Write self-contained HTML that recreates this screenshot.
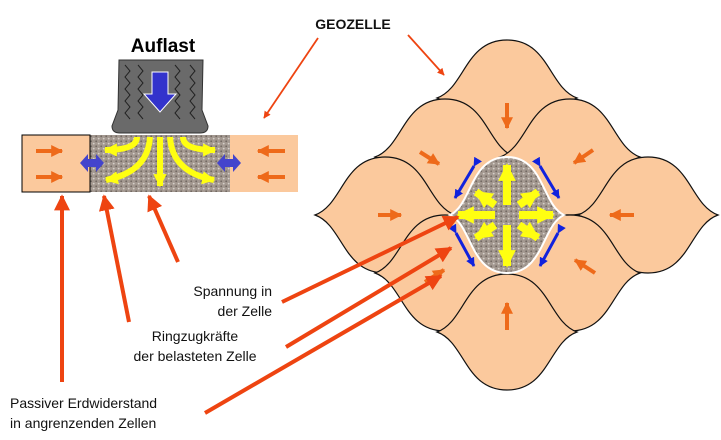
<!DOCTYPE html><html><head><meta charset="utf-8"><style>body{margin:0;background:#fff}svg{display:block}text{font-family:"Liberation Sans",sans-serif}</style></head><body>
<svg width="721" height="440" viewBox="0 0 721 440">
<defs>
<pattern id="g" width="5" height="5" patternUnits="userSpaceOnUse"><rect width="5" height="5" fill="#a39890"/><circle cx="1.2" cy="1.3" r="0.9" fill="#6f6660"/><circle cx="3.7" cy="3.6" r="0.9" fill="#d6d0ca"/></pattern>
<marker id="ar" viewBox="0 0 10 10" refX="9" refY="5" markerWidth="4" markerHeight="4" orient="auto"><path d="M0,0L10,5L0,10z" fill="#ee4411"/></marker>
<marker id="as" viewBox="0 0 10 10" refX="9" refY="5" markerWidth="4" markerHeight="4" orient="auto"><path d="M0,0L10,5L0,10z" fill="#ee4411"/></marker>
<marker id="ao" viewBox="0 0 10 10" refX="9" refY="5" markerWidth="3" markerHeight="3" orient="auto"><path d="M0,0L10,5L0,10z" fill="#ee6a1a"/></marker>
<marker id="ay" viewBox="0 0 10 10" refX="9" refY="5" markerWidth="2.2" markerHeight="2.2" orient="auto"><path d="M0,0L10,5L0,10z" fill="#ffff11"/></marker>
<marker id="ab" viewBox="0 0 10 10" refX="9" refY="5" markerWidth="3" markerHeight="3" orient="auto"><path d="M0,0L10,5L0,10z" fill="#1122dd"/></marker>
</defs>
<text x="163" y="52" font-size="19" font-weight="bold" text-anchor="middle">Auflast</text>
<path d="M119,60 L203,60 L202,110 L208,126 Q208,133 200,133 L120,133 Q112,133 112,126 L118,110 Z" fill="#6a6a6a" stroke="#333"/>
<g stroke="#222" fill="none" stroke-width="1">
<path d="M125,65 l5,6 -5,6 5,6 -5,6 5,6 -5,6 5,6 -5,6 5,6"/><path d="M138,65 l5,6 -5,6 5,6 -5,6 5,6 -5,6 5,6 -5,6 5,6"/><path d="M175,65 l5,6 -5,6 5,6 -5,6 5,6 -5,6 5,6 -5,6 5,6"/><path d="M190,65 l5,6 -5,6 5,6 -5,6 5,6 -5,6 5,6 -5,6 5,6"/></g>
<path d="M152,72 h16 v22 h8 l-16,18 -16,-18 h8z" fill="#3333cc" stroke="#fff" stroke-width="1"/>
<rect x="90" y="135" width="140" height="57" fill="url(#g)"/>
<rect x="22" y="135" width="68" height="57" fill="#fbc99d" stroke="#000"/>
<rect x="230" y="135" width="68" height="57" fill="#fbc99d"/>
<g stroke="#ee6a1a" stroke-width="4" marker-end="url(#ao)"><line x1="36" y1="151" x2="62" y2="151"/><line x1="36" y1="177" x2="62" y2="177"/><line x1="285" y1="151" x2="258" y2="151"/><line x1="285" y1="177" x2="258" y2="177"/></g>
<g fill="#4444cc"><path d="M80,163 l8,-9 v5 h8 v-5 l8,9 -8,9 v-5 h-8 v5z"/><path d="M217,163 l8,-9 v5 h8 v-5 l8,9 -8,9 v-5 h-8 v5z"/></g>
<g stroke="#ffff11" stroke-width="6" fill="none" marker-end="url(#ay)">
<line x1="160" y1="137" x2="160" y2="186"/>
<path d="M137,137 Q137,150 105,150"/><path d="M183,137 Q183,150 215,150"/>
<path d="M150,137 Q148,172 106,180"/><path d="M170,137 Q172,172 214,180"/></g>
<g fill="#fbc99d" stroke="#111" stroke-width="1.2">
<path id="c" d="M-70,0 C-42,-10 -42,-58 0,-58 C42,-58 42,-10 70,0 C42,10 42,58 0,58 C-42,58 -42,10 -70,0Z" transform="translate(507,98)"/>
<use href="#c" transform="translate(-62,59)"/><use href="#c" transform="translate(63,59)"/>
<use href="#c" transform="translate(-122,117)"/><use href="#c" transform="translate(141,117)"/>
<use href="#c" transform="translate(-62,175)"/><use href="#c" transform="translate(63,175)"/>
<use href="#c" transform="translate(0,234)"/>
</g>
<path d="M450,215 C472,205 470,157 507,157 C544,157 542,205 564,215 C542,225 544,273 507,273 C470,273 472,225 450,215Z" fill="url(#g)" stroke="#fff" stroke-width="2"/>
<g stroke="#ee6a1a" stroke-width="4" marker-end="url(#ao)">
<line x1="507" y1="103" x2="507" y2="128"/><line x1="507" y1="330" x2="507" y2="303"/>
<line x1="420" y1="152" x2="439" y2="164"/><line x1="593" y1="150" x2="574" y2="163"/>
<line x1="378" y1="215" x2="401" y2="215"/><line x1="634" y1="215" x2="610" y2="215"/>
<line x1="595" y1="273" x2="575" y2="260"/><line x1="425" y1="282" x2="444" y2="270"/></g>
<g stroke="#ffff11" stroke-width="8" marker-end="url(#ay)">
<line x1="507" y1="205" x2="507" y2="165"/><line x1="507" y1="225" x2="507" y2="266"/>
<line x1="495" y1="215" x2="458" y2="215"/><line x1="519" y1="215" x2="553" y2="215"/>
<line x1="495" y1="205" x2="476" y2="192"/><line x1="519" y1="205" x2="538" y2="192"/>
<line x1="495" y1="225" x2="476" y2="238"/><line x1="519" y1="225" x2="538" y2="238"/></g>
<g stroke="#1122dd" stroke-width="3" marker-end="url(#ab)" marker-start="url(#ab)">
<line x1="474" y1="166" x2="455" y2="198"/><line x1="540" y1="166" x2="559" y2="198"/>
<line x1="456" y1="233" x2="474" y2="266"/><line x1="558" y1="233" x2="540" y2="266"/></g>
<text x="353" y="29" font-size="14" font-weight="bold" fill="#111" text-anchor="middle">GEOZELLE</text>
<g stroke="#ee4411" stroke-width="1.8" marker-end="url(#ar)"><line x1="318" y1="38" x2="264" y2="118"/><line x1="408" y1="35" x2="444" y2="75"/></g>
<g stroke="#ee4411" stroke-width="4" marker-end="url(#as)">
<line x1="62" y1="382" x2="62" y2="196"/><line x1="129" y1="322" x2="104" y2="196"/><line x1="178" y1="262" x2="149" y2="196"/>
<line x1="282" y1="302" x2="458" y2="217"/><line x1="286" y1="347" x2="451" y2="248"/><line x1="205" y1="413" x2="441" y2="276"/></g>
<g font-size="14" fill="#111">
<text x="272" y="296" text-anchor="end">Spannung in</text><text x="272" y="316" text-anchor="end">der Zelle</text>
<text x="195" y="341" text-anchor="middle">Ringzugkräfte</text><text x="195" y="361" text-anchor="middle">der belasteten Zelle</text>
<text x="10" y="408">Passiver Erdwiderstand</text><text x="10" y="428">in angrenzenden Zellen</text></g>
</svg></body></html>
